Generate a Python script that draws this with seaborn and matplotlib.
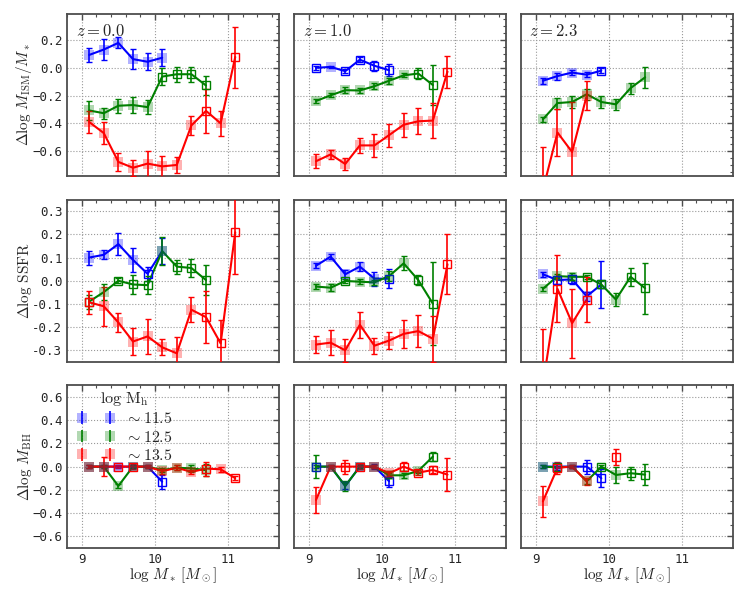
import numpy as np
import pandas as pd
import seaborn as sns
import matplotlib.pyplot as plt
from matplotlib.ticker import MultipleLocator
from matplotlib.legend_handler import HandlerErrorbar
from matplotlib.container import ErrorbarContainer

n = np.nan

# stellar mass bins (log M*), shared by every panel
mstar = [9.1, 9.3, 9.5, 9.7, 9.9, 10.1, 10.3, 10.5, 10.7, 10.9, 11.1]
redshifts = ['0.0', '1.0', '2.3']
halo_labels = ['11.5', '12.5', '13.5']

# ---- Delta log M_ISM / M*  (blue, green, red) ----
ism_y_z0 = [[0.093, 0.132, 0.18, 0.063, 0.044, 0.073],
            [-0.307, -0.327, -0.273, -0.268, -0.283, -0.063, -0.046, -0.046, -0.127],
            [-0.39, -0.47, -0.678, -0.72, -0.69, -0.71, -0.70, -0.415, -0.31, -0.40, 0.078]]
ism_e_z0 = [[0.05, 0.073, 0.04, 0.07, 0.06, 0.063],
            [0.066, 0.04, 0.05, 0.06, 0.05, 0.06, 0.055, 0.055, 0.07],
            [0.08, 0.077, 0.066, 0.057, 0.094, 0.076, 0.06, 0.068, 0.156, 0.09, 0.22]]
ism_o_z0 = [[0, 0, 0, 0, 0, 0],
            [0, 0, 0, 0, 0, 1, 1, 1, 1],
            [0, 0, 0, 0, 0, 0, 0, 0, 1, 0, 1]]

ism_y_z1 = [[0.0, 0.007, -0.024, 0.059, 0.015, -0.017],
            [-0.239, -0.198, -0.161, -0.163, -0.132, -0.093, -0.054, -0.041, -0.124],
            [-0.673, -0.624, -0.693, -0.559, -0.559, -0.485, -0.41, -0.385, -0.38, -0.027]]
ism_e_z1 = [[0.015, 0.01, 0.015, 0.02, 0.035, 0.045],
            [0.012, 0.015, 0.02, 0.015, 0.02, 0.02, 0.015, 0.04, 0.146],
            [0.05, 0.03, 0.046, 0.052, 0.08, 0.083, 0.087, 0.094, 0.124, 0.115]]
ism_o_z1 = [[1, 0, 1, 1, 1, 1],
            [0, 0, 0, 0, 0, 0, 0, 1, 1],
            [0, 0, 0, 0, 0, 0, 0, 0, 0, 1]]

ism_y_z2 = [[-0.093, -0.059, -0.034, -0.049, -0.02],
            [-0.371, -0.254, -0.246, -0.19, -0.246, -0.263, -0.146, -0.068],
            [-0.88, -0.466, -0.607, -0.2]]
ism_e_z2 = [[0.02, 0.025, 0.015, 0.02, 0.02],
            [0.02, 0.04, 0.04, 0.04, 0.04, 0.04, 0.04, 0.075],
            [0.31, 0.167, 0.36, 0.106]]
ism_o_z2 = [[0, 0, 0, 0, 1],
            [0, 0, 0, 0, 0, 0, 0, 0],
            [0, 0, 0, 0]]

# ---- Delta log SSFR ----
sfr_y_z0 = [[0.10, 0.112, 0.158, 0.09, 0.03, 0.128],
            [-0.09, -0.049, 0.0, -0.016, -0.019, 0.128, 0.061, 0.055, 0.003],
            [-0.093, -0.11, -0.18, -0.262, -0.24, -0.287, -0.313, -0.125, -0.157, -0.27, 0.209]]
sfr_e_z0 = [[0.03, 0.02, 0.046, 0.051, 0.029, 0.056],
            [0.03, 0.035, 0.01, 0.04, 0.04, 0.06, 0.03, 0.04, 0.065],
            [0.05, 0.084, 0.043, 0.06, 0.075, 0.035, 0.07, 0.054, 0.113, 0.1, 0.18]]
sfr_o_z0 = [[0, 0, 0, 0, 1, 0],
            [1, 0, 1, 1, 1, 0, 1, 1, 1],
            [1, 0, 0, 0, 0, 0, 0, 0, 1, 1, 1]]

sfr_y_z1 = [[0.065, 0.104, 0.028, 0.061, 0.009, 0.009],
            [-0.025, -0.03, -0.001, -0.004, -0.007, 0.02, 0.075, 0.003, -0.099],
            [-0.275, -0.267, -0.3, -0.19, -0.28, -0.258, -0.229, -0.217, -0.25, 0.071]]
sfr_e_z1 = [[0.01, 0.01, 0.02, 0.02, 0.03, 0.04],
            [0.01, 0.015, 0.01, 0.01, 0.01, 0.02, 0.03, 0.02, 0.18],
            [0.035, 0.054, 0.05, 0.055, 0.035, 0.035, 0.06, 0.07, 0.1, 0.13]]
sfr_o_z1 = [[0, 0, 0, 0, 0, 1],
            [0, 0, 1, 0, 0, 0, 0, 1, 1],
            [0, 0, 0, 0, 0, 0, 0, 0, 0, 1]]

sfr_y_z2 = [[0.028, 0.003, 0.006, -0.067, -0.016],
            [-0.035, 0.02, 0.017, 0.017, -0.016, -0.081, 0.017, -0.032],
            [-0.45, -0.035, -0.183, -0.081]]
sfr_e_z2 = [[0.01, 0.015, 0.02, 0.02, 0.1],
            [0.01, 0.01, 0.015, 0.01, 0.015, 0.03, 0.04, 0.11],
            [0.24, 0.145, 0.148, 0.096]]
sfr_o_z2 = [[0, 1, 1, 0, 1],
            [0, 0, 0, 1, 1, 0, 1, 1],
            [0, 1, 0, 1]]

# ---- Delta log M_BH ----
bh_y_z0 = [[0, 0, 0, 0, 0, -0.13],
           [0, 0, -0.167, 0, 0, -0.03, -0.01, -0.015, -0.03],
           [0, 0, 0, 0, 0, -0.04, -0.01, -0.046, -0.017, -0.023, -0.1]]
bh_e_z0 = [[0.01, 0.01, 0.01, 0.01, 0.01, 0.06],
           [0.01, 0.01, 0.02, 0.01, 0.01, 0.02, 0.02, 0.03, 0.05],
           [0.01, 0.08, 0.01, 0.02, 0.01, 0.02, 0.02, 0.02, 0.06, 0.02, 0.015]]
bh_o_z0 = [[0, 0, 0, 0, 0, 1],
           [0, 0, 0, 0, 0, 0, 0, 0, 0],
           [0, 0, 1, 1, 0, 0, 0, 0, 1, 0, 1]]

bh_y_z1 = [[0, 0, -0.167, 0, 0, -0.126],
           [0, 0, -0.167, 0, 0, -0.075, -0.075, -0.037, 0.086],
           [-0.287, 0, 0, 0, 0, -0.057, 0, -0.052, -0.029, -0.069]]
bh_e_z1 = [[0.01, 0.01, 0.03, 0.02, 0.02, 0.05],
           [0.1, 0.01, 0.04, 0.01, 0.01, 0.02, 0.02, 0.02, 0.04],
           [0.11, 0.01, 0.06, 0.02, 0.01, 0.02, 0.04, 0.02, 0.03, 0.14]]
bh_o_z1 = [[1, 0, 0, 0, 0, 1],
           [0, 0, 0, 0, 0, 0, 0, 0, 1],
           [0, 0, 1, 1, 0, 0, 1, 1, 1, 1]]

bh_y_z2 = [[0, 0, 0, 0, -0.1],
           [0, -0.006, 0, -0.126, 0, -0.072, -0.057, -0.069],
           [-0.3, -0.01, 0, -0.126, n, 0.086]]
bh_e_z2 = [[0.01, 0.03, 0.01, 0.06, 0.08],
           [0.01, 0.01, 0.01, 0.02, 0.01, 0.07, 0.055, 0.09],
           [0.135, 0.05, 0.01, 0.03, n, 0.07]]
bh_o_z2 = [[0, 0, 0, 1, 1],
           [0, 1, 0, 0, 1, 0, 1, 1],
           [0, 1, 0, 0, 0, 1]]

rows = [
    (r'$\Delta\log\,M_{\rm ISM}/M_*$', (-0.78, 0.39), 0.2, 0.05,
     [(ism_y_z0, ism_e_z0, ism_o_z0), (ism_y_z1, ism_e_z1, ism_o_z1), (ism_y_z2, ism_e_z2, ism_o_z2)]),
    (r'$\Delta\log\,{\rm SSFR}$', (-0.35, 0.35), 0.1, 0.05,
     [(sfr_y_z0, sfr_e_z0, sfr_o_z0), (sfr_y_z1, sfr_e_z1, sfr_o_z1), (sfr_y_z2, sfr_e_z2, sfr_o_z2)]),
    (r'$\Delta\log\,M_{\rm BH}$', (-0.7, 0.7), 0.2, 0.1,
     [(bh_y_z0, bh_e_z0, bh_o_z0), (bh_y_z1, bh_e_z1, bh_o_z1), (bh_y_z2, bh_e_z2, bh_o_z2)]),
]

colors = ['blue', 'green', 'red']

sns.set_style('white')
plt.rcParams['mathtext.fontset'] = 'cm'
plt.rcParams['font.family'] = ['DejaVu Sans']

fig, axes = plt.subplots(3, 3, figsize=(7.47, 5.98), dpi=100, sharex=True, sharey='row')
fig.subplots_adjust(left=0.09, right=0.981, top=0.977, bottom=0.084, wspace=0.071, hspace=0.145)


def draw_series(ax, y, e, o, c):
    k = len(y)
    x = np.array(mstar[:k])
    y = np.array(y, dtype=float)
    e = np.array(e, dtype=float)
    o = np.array(o, dtype=bool)
    # break the line where a bin is missing
    seg = np.cumsum(np.isnan(y))
    df = pd.DataFrame({'x': x, 'y': y, 'seg': seg}).dropna()
    sns.lineplot(data=df, x='x', y='y', units='seg', estimator=None, color=c,
                 lw=1.5, ax=ax, legend=False, zorder=3)
    ax.errorbar(x, y, yerr=e, fmt='none', ecolor=c, elinewidth=1.2, capsize=2,
                capthick=1.0, zorder=3)
    ax.plot(x[~o], y[~o], 's', color=c, alpha=0.3, ms=7, mew=0, zorder=4)
    ax.plot(x[o], y[o], 's', mfc='none', mec=c, ms=6, mew=1.0, zorder=4)


for i, (ylab, ylim, major, minor, panels) in enumerate(rows):
    for j, (ys, es, os_) in enumerate(panels):
        ax = axes[i, j]
        for y, e, o, c in zip(ys, es, os_, colors):
            draw_series(ax, y, e, o, c)
        ax.set_xlim(8.8, 11.7)
        ax.set_ylim(*ylim)
        ax.xaxis.set_major_locator(MultipleLocator(1))
        ax.xaxis.set_minor_locator(MultipleLocator(0.2))
        ax.yaxis.set_major_locator(MultipleLocator(major))
        ax.yaxis.set_minor_locator(MultipleLocator(minor))
        ax.grid(True, which='major', ls=':', lw=0.8, color='0.6')
        ax.tick_params(which='both', direction='in', top=True, right=True,
                       color='0.3', labelsize=9)
        ax.tick_params(which='major', length=4, width=1)
        ax.tick_params(which='minor', length=2, width=0.8)
        for sp in ax.spines.values():
            sp.set_color('0.3')
            sp.set_linewidth(1.3)
        ax.set_xlabel('')
        ax.set_ylabel('')
        if i == 0:
            ax.text(0.04, 0.95, r'$z=%s$' % redshifts[j], transform=ax.transAxes,
                    ha='left', va='top', fontsize=12)
        if j == 0:
            if i == 1:
                ax.yaxis.set_major_formatter(plt.FuncFormatter(lambda v, p: '%.1f' % v if abs(v) > 1e-9 else '0.0'))
            ax.set_ylabel(ylab, fontsize=11, labelpad=-1)
        if i == 2:
            ax.set_xlabel(r'$\log\,M_*\,[M_\odot]$', fontsize=11, labelpad=0)

# legend in the bottom-left panel
ax = axes[2, 0]
handles = []
for c, lab in zip(colors, halo_labels):
    h = ax.errorbar([np.nan], [np.nan], yerr=[0.05], fmt='s', color=c, ecolor=c, mfc=c,
                    alpha=1, ms=7, mew=0, elinewidth=1.2, capsize=2,
                    label=r'$\sim %s$' % lab)
    h[0].set_alpha(0.3)
    handles.append(h)
leg = ax.legend(handles=handles, title=r'$\log\,\mathrm{M_h}$', numpoints=2, frameon=False,
                loc='upper left', bbox_to_anchor=(0.0, 1.03), fontsize=11.5, title_fontsize=11.5,
                labelspacing=0.2, handlelength=2.4, handletextpad=0.6, borderaxespad=0.2,
                handler_map={ErrorbarContainer: HandlerErrorbar(xerr_size=0.4, yerr_size=0.4)})

for a in axes.flat:
    for lab in a.get_xticklabels() + a.get_yticklabels():
        lab.set_family('DejaVu Sans Mono')

fig.savefig('out.png', dpi=100)
